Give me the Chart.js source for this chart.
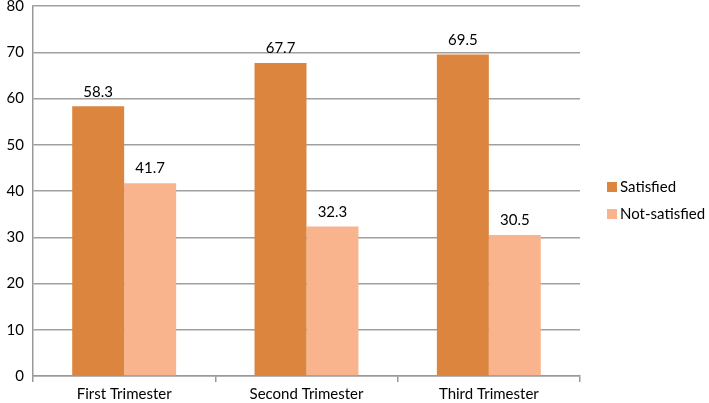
<!DOCTYPE html>
<html><head><meta charset="utf-8">
<script src="https://cdn.jsdelivr.net/npm/chart.js@4/dist/chart.umd.min.js"></script>
<style>html,body{margin:0;padding:0;background:#fff}#wrap{width:709px;height:403px}</style>
</head><body><div id="wrap"><canvas id="c" width="709" height="403"></canvas></div>
<script>
const categories = ["First Trimester", "Second Trimester", "Third Trimester"];
const satisfied = [58.3, 67.7, 69.5];
const notSatisfied = [41.7, 32.3, 30.5];
const yTicks = [0, 10, 20, 30, 40, 50, 60, 70, 80];
const seriesNames = ["Satisfied", "Not-satisfied"];
const colors = ["#DC853F", "#F9B48E"];
const FONT = "Lato, 'Open Sans', sans-serif";

const labelPlugin = {
  id: 'labels',
  afterDatasetsDraw(chart) {
    const ctx = chart.ctx;
    ctx.save();
    ctx.fillStyle = '#000';
    ctx.font = '15px ' + FONT;
    ctx.textAlign = 'center';
    ctx.textBaseline = 'bottom';
    chart.data.datasets.forEach((ds, i) => {
      chart.getDatasetMeta(i).data.forEach((bar, j) => {
        ctx.fillText(ds.data[j].toFixed(1), bar.x, bar.y - 7);
      });
    });
    // legend
    ctx.textAlign = 'left';
    ctx.textBaseline = 'middle';
    ctx.font = '15px ' + FONT;
    chart.data.datasets.forEach((ds, i) => {
      const y = 187 + i * 27;
      ctx.fillStyle = ds.backgroundColor;
      ctx.fillRect(607, y - 5, 10, 10);
      ctx.fillStyle = '#000';
      ctx.fillText(ds.label, 620, y);
    });
    ctx.restore();
  }
};

new Chart(document.getElementById('c'), {
  type: 'bar',
  data: {
    labels: categories,
    datasets: [
      { label: seriesNames[0], data: satisfied, backgroundColor: colors[0] },
      { label: seriesNames[1], data: notSatisfied, backgroundColor: colors[1] }
    ]
  },
  options: {
    responsive: false,
    animation: false,
    layout: { padding: { top: 6, right: 129, left: 0, bottom: 0 } },
    plugins: { legend: { display: false }, tooltip: { enabled: false } },
    datasets: { bar: { categoryPercentage: 0.57, barPercentage: 1.0 } },
    scales: {
      x: {
        grid: { drawOnChartArea: false, offset: true, tickLength: 6, color: '#999', lineWidth: 1.5 },
        border: { color: '#999', width: 1.5 },
        ticks: { color: '#000', font: { family: FONT, size: 15 }, padding: 3 },
        afterFit(s) { s.height = 27; s.paddingLeft = 0; s.paddingRight = 0; }
      },
      y: {
        min: 0, max: 80,
        afterBuildTicks(s) { s.ticks = yTicks.map(v => ({ value: v })); },
        grid: { color: '#a0a0a0', lineWidth: 1.5, drawTicks: false },
        border: { color: '#999', width: 1.5 },
        ticks: { color: '#000', font: { family: FONT, size: 15 }, padding: 9 },
        afterFit(s) { s.width = 33; s.paddingTop = 0; s.paddingBottom = 0; }
      }
    }
  },
  plugins: [labelPlugin]
});
</script></body></html>
